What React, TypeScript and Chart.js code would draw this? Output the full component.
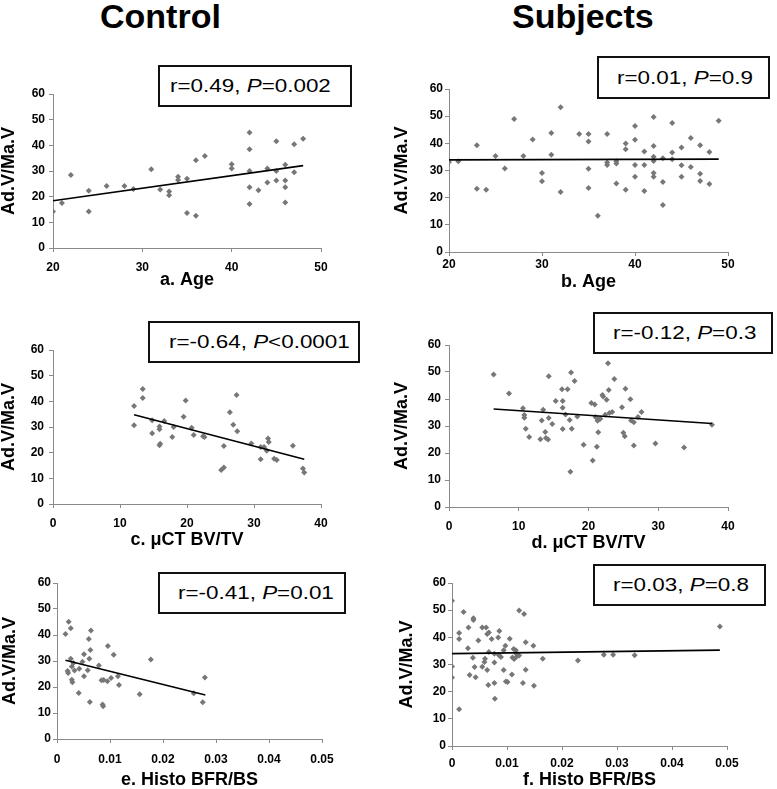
import React, { useEffect, useRef } from 'react';
import { Chart, registerables } from 'chart.js';

Chart.register(...registerables);

// ---------- Data ----------
const columnTitles = ['Control', 'Subjects'];
const yAxisLabel = 'Ad.V/Ma.V';
const yRange = [0, 60, 10];
const ageRange = [20, 50, 10];
const bvRange = [0, 40, 10];
const bfrRange = [0, 0.05, 0.01];

// a. Control – Age
const ageCtrlX = [20, 21, 22, 24, 24, 26, 28, 29, 31, 32, 33, 33, 34, 34, 35, 35, 36, 36, 37, 40, 40, 42, 42, 42, 42, 42, 43, 44, 44, 45, 45, 45, 46, 46, 46, 46, 47, 47, 48];
const ageCtrlY = [14.2, 17.5, 28.4, 22.3, 14.2, 24.2, 24.2, 23, 30.7, 22.8, 22, 20.6, 27.8, 26.5, 27, 13.6, 34.2, 12.6, 35.8, 32.6, 31, 45, 38.5, 30, 23.7, 17.1, 22.5, 31, 25.5, 41.6, 30, 26.3, 32.4, 26.3, 23.7, 17.7, 40.4, 29.5, 42.6];
const ageCtrlFitX = [20, 48];
const ageCtrlFitY = [18.4, 32.1];

// b. Subjects – Age
const ageSubjX = [20, 21, 23, 23, 24, 25, 26, 27, 28, 29, 30, 30, 31, 31, 32, 32, 34, 35, 35, 35, 35, 36, 37, 37, 37, 38, 38, 38, 39, 39, 39, 40, 40, 40, 40, 41, 41, 41, 42, 42, 42, 42, 42, 42, 43, 43, 43, 44, 44, 44, 45, 45, 45, 46, 46, 47, 47, 47, 48, 48, 49];
const ageSubjY = [33.1, 33.4, 39.3, 23.3, 22.9, 35.3, 30.7, 49, 35.3, 41.4, 29.1, 26, 43.8, 35.8, 53.3, 22.1, 43.4, 43.4, 40.7, 30.6, 23.6, 13.3, 43.4, 32.9, 32, 33.4, 32.6, 25.2, 39.9, 37.8, 22.9, 46.4, 41.3, 32, 27.7, 37, 32, 22.5, 49.7, 39, 35.1, 33.5, 29.1, 27.7, 34.5, 25.8, 17.3, 47.5, 36.6, 34.1, 38.5, 31.9, 27.7, 42, 31.3, 39.3, 28.8, 26.1, 36.8, 25, 48.3];
const ageSubjFitX = [20, 49];
const ageSubjFitY = [33.9, 34.2];

// c. Control – µCT BV/TV
const bvCtrlX = [12.1, 12.1, 13.4, 13.4, 14.8, 14.8, 15.9, 15.9, 15.9, 16, 16.6, 17.8, 18, 19.5, 19.8, 20.7, 21, 22.4, 22.6, 25.1, 25.5, 25.5, 26.4, 26.9, 27.4, 27.5, 29.6, 31, 31, 31.5, 31.9, 32.1, 32.2, 33, 33.4, 35.8, 37.3, 37.5];
const bvCtrlY = [38.2, 30.7, 44.8, 41.3, 32.6, 27.6, 29.1, 30.2, 22.9, 23.5, 32.3, 26.1, 30, 34, 40.3, 29.7, 26.9, 26.4, 26.1, 13.2, 14.2, 22.6, 35.7, 30.9, 42.5, 28.3, 23.6, 22.2, 17.4, 22.2, 20.7, 25.5, 24.2, 17.6, 17.1, 22.7, 13.8, 12.3];
const bvCtrlFitX = [12.1, 37.5];
const bvCtrlFitY = [34.8, 17.4];

// d. Subjects – µCT BV/TV
const bvSubjX = [6.4, 8.6, 10.6, 10.8, 10.8, 11.0, 11.5, 13.1, 13.3, 13.5, 13.8, 13.9, 14.2, 14.3, 14.3, 14.8, 15.3, 16.2, 16.3, 16.3, 16.3, 16.7, 17.0, 17.3, 17.5, 17.6, 18.0, 17.4, 18.4, 19.3, 20.4, 20.6, 20.9, 21.0, 21.2, 21.3, 21.4, 21.5, 21.7, 22.0, 22.1, 22.4, 22.6, 22.8, 22.9, 23.0, 23.4, 23.7, 24.8, 25.0, 25.2, 25.3, 26.0, 26.1, 26.5, 26.5, 27.1, 27.6, 29.6, 33.7, 37.7];
const bvSubjY = [49.1, 42, 36.6, 34.1, 33.1, 29, 25.9, 25.1, 32, 36, 27.8, 25.6, 25, 48.4, 33, 30.7, 39.3, 43.6, 39.3, 36.8, 28.9, 34.3, 43.6, 32.2, 49.8, 29, 46.7, 13.1, 33.5, 23.1, 38.5, 17.2, 38, 33.3, 22.3, 31.9, 27.7, 32.5, 32.7, 41.5, 40.9, 34.2, 39.7, 53.2, 43.3, 34.8, 35.2, 47.4, 36.9, 27.5, 26.2, 43.8, 39.9, 32, 31.4, 22.8, 33.3, 35.2, 23.5, 22, 30.5];
const bvSubjFitX = [6.4, 37.7];
const bvSubjFitY = [36.3, 30.9];

// e. Control – Histo BFR/BS
const bfrCtrlX = [0.0016, 0.0022, 0.002, 0.0021, 0.0026, 0.0026, 0.0028, 0.0028, 0.0029, 0.0031, 0.0033, 0.0041, 0.0042, 0.0048, 0.0051, 0.0051, 0.0058, 0.006, 0.0061, 0.0062, 0.0063, 0.0064, 0.0079, 0.0084, 0.0086, 0.0087, 0.0088, 0.0095, 0.0096, 0.0102, 0.0107, 0.0115, 0.0117, 0.0156, 0.0177, 0.0258, 0.0275, 0.0279];
const bfrCtrlY = [40.4, 45.1, 26.2, 25.4, 42.6, 30.9, 27.9, 22.8, 21.8, 29.2, 26.3, 17.7, 27, 29.7, 32.6, 24.1, 26.4, 38.5, 30.9, 14.2, 34.2, 41.7, 28.3, 22.6, 13.3, 12.6, 22.7, 22.2, 35.8, 23.5, 32.4, 24.1, 20.8, 17.2, 30.6, 17.6, 14.1, 23.7];
const bfrCtrlFitX = [0.0016, 0.028];
const bfrCtrlFitY = [30.3, 16.9];

// f. Subjects – Histo BFR/BS
const bfrSubjX = [0, 0, 0, 0.0013, 0.0013, 0.0013, 0.0021, 0.003, 0.0029, 0.0032, 0.0039, 0.0039, 0.0038, 0.0041, 0.0043, 0.0048, 0.0055, 0.0055, 0.0059, 0.006, 0.0062, 0.0064, 0.0066, 0.0064, 0.0067, 0.0067, 0.0072, 0.0077, 0.0077, 0.0077, 0.0078, 0.0086, 0.0084, 0.0085, 0.0089, 0.0094, 0.0094, 0.0097, 0.0098, 0.0101, 0.0105, 0.0109, 0.011, 0.0112, 0.0113, 0.0116, 0.0117, 0.0118, 0.0122, 0.0122, 0.0129, 0.0131, 0.0134, 0.0134, 0.0148, 0.0149, 0.0165, 0.0229, 0.0276, 0.0293, 0.0332, 0.0487];
const bfrSubjY = [53.5, 29.3, 25.2, 41.6, 39.4, 13.5, 49.3, 43.6, 36, 26.1, 47, 46.4, 32.5, 29.1, 25.3, 38.8, 43.6, 29.2, 30.9, 32.1, 43.6, 28, 22.5, 41.2, 41.8, 34.6, 39.4, 30.7, 23.2, 34, 17.4, 42.3, 39.9, 33.5, 32.8, 28, 35.2, 36.9, 23.7, 23.6, 39.5, 26.3, 32.6, 35.7, 32, 35.2, 34, 32.9, 49.9, 33.3, 23.2, 48.6, 38.2, 28.1, 36.9, 22.2, 32.1, 31.5, 33.6, 33.6, 33.4, 44];
const bfrSubjFitX = [0, 0.0487];
const bfrSubjFitY = [34, 35.3];

// ---------- Layout / style ----------
const FONT = "'Liberation Sans', Arial, Helvetica, sans-serif";
const POINT_COLOR = '#777777';
const AXIS_COLOR = '#8a8a8a';

type Stat = { r: string; op: string; p: string };

interface PanelSpec {
  xs: number[]; ys: number[]; fx: number[]; fy: number[];
  xRange: number[]; xTitle: string; stat: Stat;
  cx: number; cw: number; L: number; R: number; T: number; B: number;
  xTickPad: number; yTickPad: number; xH: number; yTitlePad: number;
  box: number[]; // left, top, width, height, textIndent
}

const PANELS: PanelSpec[] = [
  { xs: ageCtrlX, ys: ageCtrlY, fx: ageCtrlFitX, fy: ageCtrlFitY, xRange: ageRange, xTitle: 'a. Age',
    stat: { r: '0.49', op: '=', p: '0.002' },
    cx: 0, cw: 390, L: 53, R: 321, T: 94, B: 248, xTickPad: 8, yTickPad: 4, xH: 41, yTitlePad: 0,
    box: [158, 65, 194, 42, 12] },
  { xs: ageSubjX, ys: ageSubjY, fx: ageSubjFitX, fy: ageSubjFitY, xRange: ageRange, xTitle: 'b. Age',
    stat: { r: '0.01', op: '=', p: '0.9' },
    cx: 390, cw: 387, L: 449, R: 728, T: 89, B: 252, xTickPad: 1, yTickPad: 2, xH: 39, yTitlePad: 3,
    box: [597, 56, 173, 43, 20] },
  { xs: bvCtrlX, ys: bvCtrlY, fx: bvCtrlFitX, fy: bvCtrlFitY, xRange: bvRange, xTitle: 'c. μCT BV/TV',
    stat: { r: '-0.64', op: '<', p: '0.0001' },
    cx: 0, cw: 390, L: 53, R: 321, T: 350, B: 504, xTickPad: 8, yTickPad: 5, xH: 45, yTitlePad: 0,
    box: [148, 321, 212, 42, 21] },
  { xs: bvSubjX, ys: bvSubjY, fx: bvSubjFitX, fy: bvSubjFitY, xRange: bvRange, xTitle: 'd. μCT BV/TV',
    stat: { r: '-0.12', op: '=', p: '0.3' },
    cx: 390, cw: 387, L: 449, R: 728, T: 345, B: 507, xTickPad: 8, yTickPad: 4, xH: 45, yTitlePad: 3,
    box: [593, 312, 180, 42, 20] },
  { xs: bfrCtrlX, ys: bfrCtrlY, fx: bfrCtrlFitX, fy: bfrCtrlFitY, xRange: bfrRange, xTitle: 'e. Histo BFR/BS',
    stat: { r: '-0.41', op: '=', p: '0.01' },
    cx: 0, cw: 390, L: 57, R: 322, T: 583, B: 739, xTickPad: 9, yTickPad: 2, xH: 50, yTitlePad: 1,
    box: [158, 572, 188, 42, 20] },
  { xs: bfrSubjX, ys: bfrSubjY, fx: bfrSubjFitX, fy: bfrSubjFitY, xRange: bfrRange, xTitle: 'f. Histo BFR/BS',
    stat: { r: '0.03', op: '=', p: '0.8' },
    cx: 390, cw: 387, L: 452, R: 727, T: 583, B: 746, xTickPad: 6, yTickPad: 2, xH: 43, yTitlePad: 8,
    box: [593, 564, 173, 42, 20] },
];

const TOP_PAD = 30;

function fmt(v: number): string {
  return String(Math.round(v * 10000) / 10000);
}

function Panel({ s }: { s: PanelSpec }) {
  const ref = useRef<HTMLCanvasElement | null>(null);
  const cy = s.T - TOP_PAD;
  const ch = s.B + s.xH - cy;
  useEffect(() => {
    const canvas = ref.current;
    if (!canvas) return;
    const pts = s.xs.map((x, i) => ({ x, y: s.ys[i] }));
    const fit = s.fx.map((x, i) => ({ x, y: s.fy[i] }));
    const yW = s.L - s.cx;
    const padRight = s.cx + s.cw - s.R;
    const tickFont = { family: FONT, size: 12, weight: 'bold' as const };
    const titleFont = { family: FONT, size: 18, weight: 'bold' as const, lineHeight: 1 };
    const chart = new Chart(canvas, {
      type: 'scatter',
      data: {
        datasets: [
          {
            data: pts,
            pointStyle: 'rectRot',
            pointRadius: 3,
            pointHoverRadius: 3,
            backgroundColor: POINT_COLOR,
            borderColor: POINT_COLOR,
            borderWidth: 0,
            order: 2,
          },
          {
            data: fit,
            showLine: true,
            pointRadius: 0,
            borderColor: '#000000',
            borderWidth: 1.6,
            backgroundColor: '#000000',
            fill: false,
            order: 1,
          },
        ],
      },
      options: {
        animation: false,
        responsive: false,
        maintainAspectRatio: false,
        devicePixelRatio: 1,
        events: [],
        layout: { autoPadding: false, padding: { top: TOP_PAD, right: padRight, left: 0, bottom: 0 } },
        plugins: { legend: { display: false }, tooltip: { enabled: false }, title: { display: false } },
        scales: {
          x: {
            type: 'linear',
            position: 'bottom',
            min: s.xRange[0],
            max: s.xRange[1],
            ticks: {
              stepSize: s.xRange[2],
              color: '#000',
              font: tickFont,
              padding: s.xTickPad,
              maxRotation: 0,
              autoSkip: false,
              callback: (v: any) => fmt(Number(v)),
            },
            grid: { display: true, drawOnChartArea: false, drawTicks: true, tickLength: 4, color: AXIS_COLOR, lineWidth: 1 },
            border: { display: true, color: AXIS_COLOR, width: 1 },
            title: { display: true, text: s.xTitle, color: '#000', font: titleFont, padding: 0 },
            afterFit: (sc: any) => {
              sc.height = s.xH;
              sc.paddingLeft = 0;
              sc.paddingRight = 0;
            },
          },
          y: {
            type: 'linear',
            position: 'left',
            min: yRange[0],
            max: yRange[1],
            ticks: {
              stepSize: yRange[2],
              color: '#000',
              font: tickFont,
              padding: s.yTickPad,
              callback: (v: any) => fmt(Number(v)),
            },
            grid: { display: true, drawOnChartArea: false, drawTicks: true, tickLength: 4, color: AXIS_COLOR, lineWidth: 1 },
            border: { display: true, color: AXIS_COLOR, width: 1 },
            title: { display: true, text: yAxisLabel, color: '#000', font: titleFont, padding: { top: s.yTitlePad, bottom: 0 } },
            afterFit: (sc: any) => {
              sc.width = yW;
              sc.paddingTop = 0;
              sc.paddingBottom = 0;
            },
          },
        },
      },
    } as any);
    return () => chart.destroy();
  }, [s]);
  return (
    <canvas
      ref={ref}
      width={s.cw}
      height={ch}
      style={{ position: 'absolute', left: s.cx, top: cy, width: s.cw, height: ch }}
    />
  );
}

function StatBox({ s }: { s: PanelSpec }) {
  const [left, top, width, height, indent] = s.box;
  return (
    <div
      style={{
        position: 'absolute', left, top, width, height, boxSizing: 'border-box',
        border: '2px solid #111', background: '#fff', display: 'flex', alignItems: 'center',
        fontFamily: FONT, fontSize: 19, color: '#000', whiteSpace: 'nowrap',
      }}
    >
      <span style={{ display: 'inline-block', marginLeft: indent - 2, transform: 'scaleX(1.18)', transformOrigin: 'left center' }}>
        {'r=' + s.stat.r + ', '}<i>P</i>{s.stat.op + s.stat.p}
      </span>
    </div>
  );
}

export default function App() {
  return (
    <div style={{ position: 'absolute', left: 0, top: 0, width: 777, height: 789, background: '#fff', overflow: 'hidden' }}>
      <div style={{ position: 'absolute', left: 100, top: -1, fontFamily: FONT, fontWeight: 'bold', fontSize: 34, lineHeight: '34px', color: '#000' }}>
        {columnTitles[0]}
      </div>
      <div style={{ position: 'absolute', left: 512, top: -1, fontFamily: FONT, fontWeight: 'bold', fontSize: 34, lineHeight: '34px', color: '#000' }}>
        {columnTitles[1]}
      </div>
      {PANELS.map((p, i) => (
        <Panel key={'c' + i} s={p} />
      ))}
      {PANELS.map((p, i) => (
        <StatBox key={'b' + i} s={p} />
      ))}
    </div>
  );
}
